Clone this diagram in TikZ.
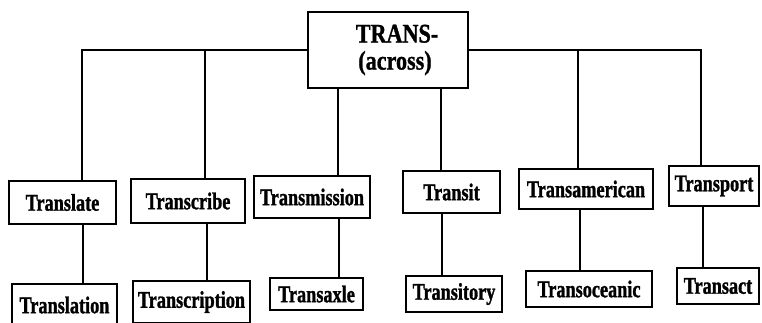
\documentclass[tikz,border=0pt]{standalone}
\usepackage{fontspec}
\newfontfamily\boxfont{Liberation Serif}[FakeStretch=0.76, BoldFeatures={FakeBold=1.2}]
\newfontfamily\topfont{Liberation Serif}[FakeStretch=0.82, BoldFeatures={FakeBold=1}]
\begin{document}
\begin{tikzpicture}[x=1pt,y=-1pt,
  box/.style={draw, line width=2.4pt, rectangle, inner sep=0pt,
    font=\boxfont\bfseries\fontsize{24}{26}\selectfont},
  topbox/.style={draw, line width=2.4pt, rectangle, inner sep=0pt, align=center,
    font=\topfont\bfseries\fontsize{27}{27}\selectfont},
  link/.style={line width=2.3pt}]
\path[use as bounding box, clip] (0,0) rectangle (762,322);
\fill[white] (0,0) rectangle (762,322);
% top
\node[topbox, minimum width=160pt, minimum height=76pt] (top) at (388,50)
  {\hspace*{18pt}TRANS-\\\hspace*{14pt}(across)};
% level 1
\node[box, minimum width=107pt, minimum height=43pt] (translate) at (62.5,202.5) {Translate};
\node[box, minimum width=114pt, minimum height=44pt] (transcribe) at (188,201) {Transcribe};
\node[box, minimum width=116pt, minimum height=42pt] (transmission) at (312,197) {Transmission};
\node[box, minimum width=97pt, minimum height=42pt] (transit) at (451.5,192) {Transit};
\node[box, minimum width=134pt, minimum height=40pt] (transamerican) at (586,189) {Transamerican};
\node[box, minimum width=90pt, minimum height=40pt] (transport) at (714,186) {Transport};
% level 2
\node[box, minimum width=105pt, minimum height=42pt] (translation) at (64.5,305) {Translation};
\node[box, minimum width=117pt, minimum height=42pt] (transcription) at (191.5,302) {Transcription};
\node[box, minimum width=93pt, minimum height=32pt] (transaxle) at (316.5,294) {Transaxle};
\node[box, minimum width=96pt, minimum height=36pt] (transitory) at (454,294) {Transitory};
\node[box, minimum width=126pt, minimum height=36pt] (transoceanic) at (589,289) {Transoceanic};
\node[box, minimum width=82pt, minimum height=36pt] (transact) at (718,286) {Transact};
% connector columns
\coordinate (ka) at (82,0);
\coordinate (kb) at (205,0);
\coordinate (kc) at (338,0);
\coordinate (kd) at (441,0);
\coordinate (ke) at (578,0);
\coordinate (kf) at (701,0);
\coordinate (la) at (83,0);
\coordinate (lb) at (207,0);
\coordinate (lc) at (339,0);
\coordinate (ld) at (442,0);
\coordinate (le) at (580,0);
\coordinate (lf) at (703,0);
% top bar
\draw[link] (ka |- translate.north) |- (top.west);
\draw[link] (kb |- transcribe.north) -- (kb |- top.west);
\draw[link] (kf |- transport.north) |- (top.east);
\draw[link] (ke |- transamerican.north) -- (ke |- top.east);
\draw[link] (kc |- top.south) -- (kc |- transmission.north);
\draw[link] (kd |- top.south) -- (kd |- transit.north);
% level 1 to level 2
\draw[link] (la |- translate.south) -- (la |- translation.north);
\draw[link] (lb |- transcribe.south) -- (lb |- transcription.north);
\draw[link] (lc |- transmission.south) -- (lc |- transaxle.north);
\draw[link] (ld |- transit.south) -- (ld |- transitory.north);
\draw[link] (le |- transamerican.south) -- (le |- transoceanic.north);
\draw[link] (lf |- transport.south) -- (lf |- transact.north);
\end{tikzpicture}
\end{document}
